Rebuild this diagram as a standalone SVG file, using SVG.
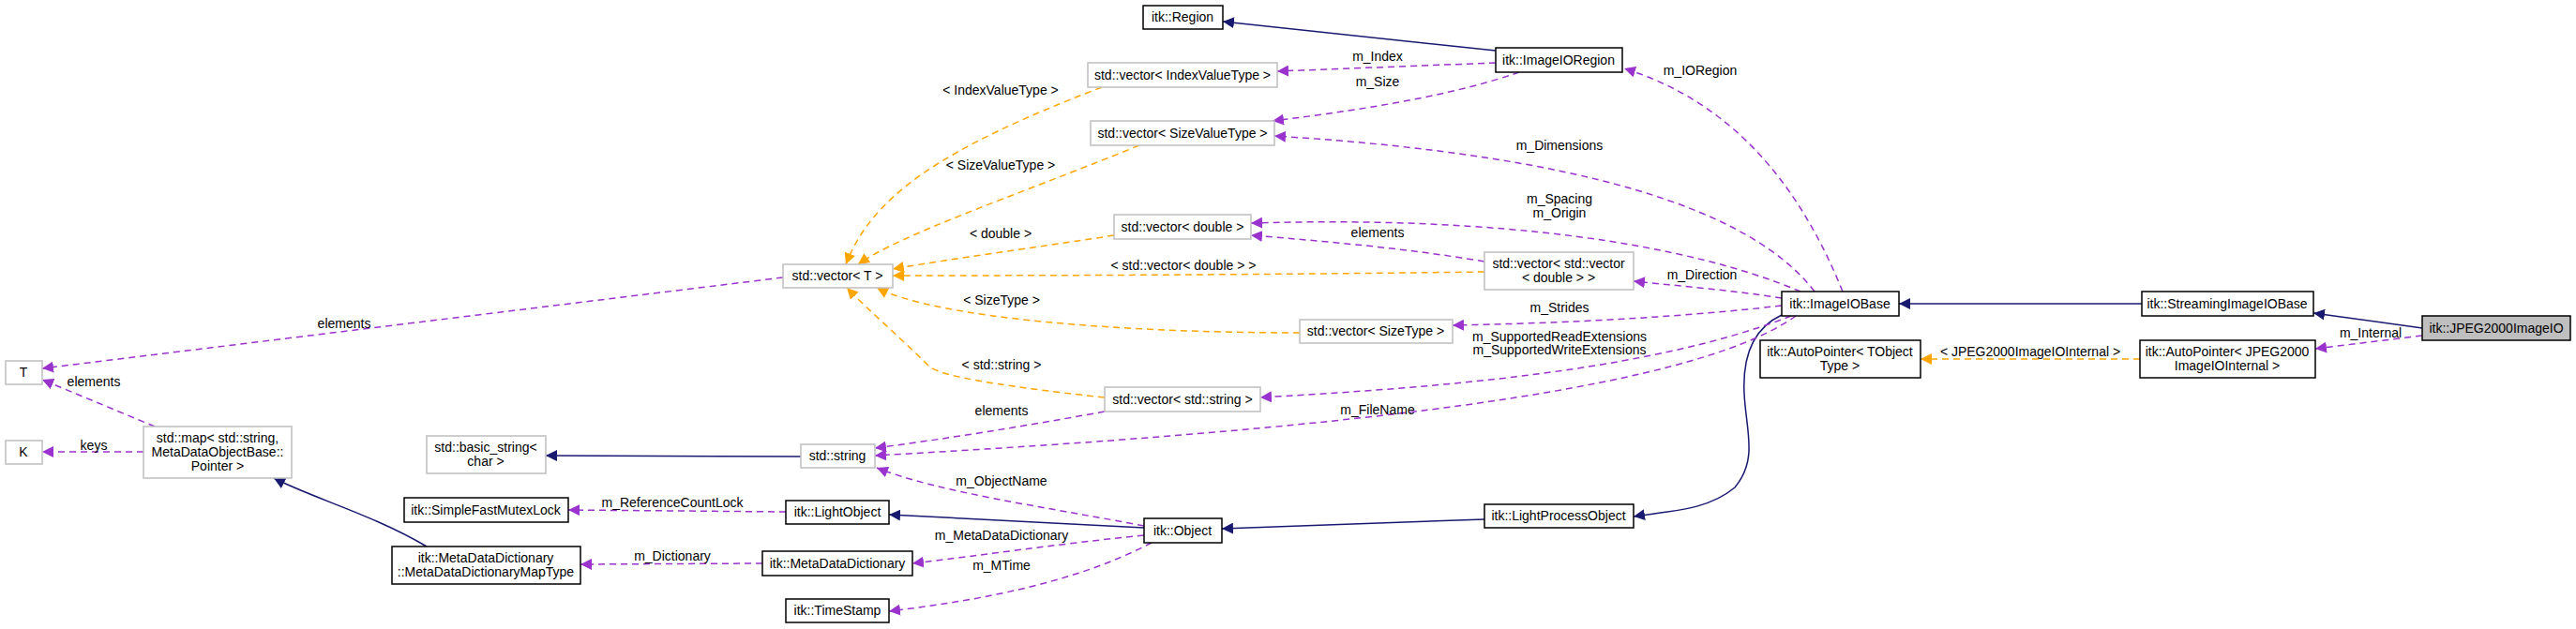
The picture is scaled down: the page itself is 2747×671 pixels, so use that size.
<svg xmlns="http://www.w3.org/2000/svg" width="2747" height="671" viewBox="0 0 2747 671">
<style>
text{font-family:"Liberation Sans",Arial,sans-serif;font-size:14px;fill:#000;text-anchor:middle}
.b rect{fill:#fff;stroke:#000;stroke-width:1.5}
.g rect{fill:#fff;stroke:#bfbfbf;stroke-width:1.5}
.p{fill:none;stroke:#9a32cd;stroke-width:1.5;stroke-dasharray:7,5}
.o{fill:none;stroke:#ffa500;stroke-width:1.5;stroke-dasharray:7,5}
.n{fill:none;stroke:#191970;stroke-width:1.5}
</style>
<defs>
<marker id="ap" viewBox="0 0 10 10" refX="10" refY="5" markerWidth="12" markerHeight="12" markerUnits="userSpaceOnUse" orient="auto"><path d="M0,0L10,5L0,10z" fill="#9a32cd"/></marker>
<marker id="ao" viewBox="0 0 10 10" refX="10" refY="5" markerWidth="12" markerHeight="12" markerUnits="userSpaceOnUse" orient="auto"><path d="M0,0L10,5L0,10z" fill="#ffa500"/></marker>
<marker id="an" viewBox="0 0 10 10" refX="10" refY="5" markerWidth="12" markerHeight="12" markerUnits="userSpaceOnUse" orient="auto"><path d="M0,0L10,5L0,10z" fill="#191970"/></marker>
</defs>
<rect width="2747" height="671" fill="#fff"/>
<g id="edges">
<path class="n" marker-end="url(#an)" d="M1595,54L1304,23"/>
<path class="n" marker-end="url(#an)" d="M854,487L582,486"/>
<path class="n" marker-end="url(#an)" d="M455,583C400,550 330,530 292,510"/>
<path class="n" marker-end="url(#an)" d="M1220,563L948,549"/>
<path class="n" marker-end="url(#an)" d="M1583,554L1303,564"/>
<path class="n" marker-end="url(#an)" d="M1900,336C1870,350 1858,380 1860,420C1862,460 1875,490 1850,520C1820,545 1780,545 1742,551"/>
<path class="n" marker-end="url(#an)" d="M2284,324L2025,324"/>
<path class="n" marker-end="url(#an)" d="M2583,350L2467,334"/>
<path class="p" marker-end="url(#ap)" d="M1595,67L1362,76"/>
<path class="p" marker-end="url(#ap)" d="M1620,77C1540,105 1430,120 1357,129"/>
<path class="p" marker-end="url(#ap)" d="M1965,311C1920,200 1850,110 1732,73"/>
<path class="p" marker-end="url(#ap)" d="M1935,311C1850,200 1600,160 1359,145"/>
<path class="p" marker-end="url(#ap)" d="M1920,311C1800,260 1600,230 1334,238"/>
<path class="p" marker-end="url(#ap)" d="M1583,279C1500,265 1420,258 1334,251"/>
<path class="p" marker-end="url(#ap)" d="M1900,318C1850,310 1790,305 1742,300"/>
<path class="p" marker-end="url(#ap)" d="M1900,326C1780,340 1650,345 1549,347"/>
<path class="p" marker-end="url(#ap)" d="M1910,337C1750,400 1500,415 1344,424"/>
<path class="p" marker-end="url(#ap)" d="M1915,337C1800,420 1400,460 933,486"/>
<path class="p" marker-end="url(#ap)" d="M1178,439C1090,455 1010,468 933,478"/>
<path class="p" marker-end="url(#ap)" d="M1220,561C1110,540 1000,525 935,499"/>
<path class="p" marker-end="url(#ap)" d="M1220,571C1130,580 1050,592 973,601"/>
<path class="p" marker-end="url(#ap)" d="M1228,579C1150,620 1050,640 948,652"/>
<path class="p" marker-end="url(#ap)" d="M838,546L606,544"/>
<path class="p" marker-end="url(#ap)" d="M813,601L619,602"/>
<path class="p" marker-end="url(#ap)" d="M835,296L45,393"/>
<path class="p" marker-end="url(#ap)" d="M165,455L45,405"/>
<path class="p" marker-end="url(#ap)" d="M153,482L45,482"/>
<path class="p" marker-end="url(#ap)" d="M2583,358L2469,372"/>
<path class="o" marker-end="url(#ao)" d="M1175,93C1000,160 930,210 902,282"/>
<path class="o" marker-end="url(#ao)" d="M1215,155C1080,210 960,250 915,282"/>
<path class="o" marker-end="url(#ao)" d="M1188,251C1100,265 1020,275 952,287"/>
<path class="o" marker-end="url(#ao)" d="M1583,290C1350,293 1150,294 952,294"/>
<path class="o" marker-end="url(#ao)" d="M1386,355C1200,355 1000,340 935,307"/>
<path class="o" marker-end="url(#ao)" d="M1178,424C1050,410 1000,400 990,390C960,360 925,330 903,307"/>
<path class="o" marker-end="url(#ao)" d="M2282,383L2048,383"/>
</g>
<g id="labels">
<text x="1469" y="65">m_Index</text>
<text x="1469" y="92">m_Size</text>
<text x="1813" y="80">m_IORegion</text>
<text x="1663" y="160">m_Dimensions</text>
<text x="1663" y="217">m_Spacing</text>
<text x="1663" y="232">m_Origin</text>
<text x="1469" y="253">elements</text>
<text x="1815" y="298">m_Direction</text>
<text x="1663" y="333">m_Strides</text>
<text x="1663" y="364">m_SupportedReadExtensions</text>
<text x="1663" y="378">m_SupportedWriteExtensions</text>
<text x="1469" y="442">m_FileName</text>
<text x="1068" y="443">elements</text>
<text x="1068" y="518">m_ObjectName</text>
<text x="1068" y="576">m_MetaDataDictionary</text>
<text x="1068" y="608">m_MTime</text>
<text x="717" y="541">m_ReferenceCountLock</text>
<text x="717" y="598">m_Dictionary</text>
<text x="367" y="350">elements</text>
<text x="100" y="412">elements</text>
<text x="100" y="480">keys</text>
<text x="2528" y="360">m_Internal</text>
<text x="1067" y="101">&lt; IndexValueType &gt;</text>
<text x="1067" y="181">&lt; SizeValueType &gt;</text>
<text x="1067" y="254">&lt; double &gt;</text>
<text x="1262" y="288">&lt; std::vector&lt; double &gt; &gt;</text>
<text x="1068" y="325">&lt; SizeType &gt;</text>
<text x="1068" y="394">&lt; std::string &gt;</text>
<text x="2165" y="380">&lt; JPEG2000ImageIOInternal &gt;</text>
</g>
<g id="n_region" class="b"><rect x="1219" y="6" width="85" height="25"/><text x="1261" y="23">itk::Region</text></g>
<g id="n_ioregion" class="b"><rect x="1595" y="51" width="135" height="26"/><text x="1662" y="69">itk::ImageIORegion</text></g>
<g id="n_vidx" class="g"><rect x="1160" y="67" width="202" height="26"/><text x="1261" y="85">std::vector&lt; IndexValueType &gt;</text></g>
<g id="n_vsize" class="g"><rect x="1163" y="129" width="196" height="26"/><text x="1261" y="147">std::vector&lt; SizeValueType &gt;</text></g>
<g id="n_vdouble" class="g"><rect x="1188" y="229" width="146" height="26"/><text x="1261" y="247">std::vector&lt; double &gt;</text></g>
<g id="n_vvdouble" class="g"><rect x="1583" y="269" width="159" height="40"/><text x="1662" y="286">std::vector&lt; std::vector</text><text x="1662" y="301">&lt; double &gt; &gt;</text></g>
<g id="n_vT" class="g"><rect x="835" y="282" width="117" height="25"/><text x="893" y="299">std::vector&lt; T &gt;</text></g>
<g id="n_vsizetype" class="g"><rect x="1386" y="341" width="163" height="25"/><text x="1467" y="358">std::vector&lt; SizeType &gt;</text></g>
<g id="n_vstring" class="g"><rect x="1178" y="413" width="166" height="26"/><text x="1261" y="431">std::vector&lt; std::string &gt;</text></g>
<g id="n_string" class="g"><rect x="854" y="474" width="79" height="25"/><text x="893" y="491">std::string</text></g>
<g id="n_basic" class="g"><rect x="455" y="465" width="127" height="40"/><text x="518" y="482">std::basic_string&lt;</text><text x="518" y="497">char &gt;</text></g>
<g id="n_T" class="g"><rect x="6" y="385" width="39" height="25"/><text x="25" y="402">T</text></g>
<g id="n_K" class="g"><rect x="6" y="470" width="39" height="25"/><text x="25" y="487">K</text></g>
<g id="n_map" class="g"><rect x="153" y="455" width="158" height="55"/><text x="232" y="472">std::map&lt; std::string,</text><text x="232" y="487">MetaDataObjectBase::</text><text x="232" y="502">Pointer &gt;</text></g>
<g id="n_mutex" class="b"><rect x="431" y="531" width="175" height="26"/><text x="518" y="549">itk::SimpleFastMutexLock</text></g>
<g id="n_lightobj" class="b"><rect x="838" y="534" width="110" height="25"/><text x="893" y="551">itk::LightObject</text></g>
<g id="n_maptype" class="b"><rect x="418" y="583" width="201" height="40"/><text x="518" y="600">itk::MetaDataDictionary</text><text x="518" y="615">::MetaDataDictionaryMapType</text></g>
<g id="n_mdd" class="b"><rect x="813" y="588" width="160" height="26"/><text x="893" y="606">itk::MetaDataDictionary</text></g>
<g id="n_ts" class="b"><rect x="838" y="639" width="110" height="25"/><text x="893" y="656">itk::TimeStamp</text></g>
<g id="n_object" class="b"><rect x="1220" y="553" width="83" height="26"/><text x="1261" y="571">itk::Object</text></g>
<g id="n_lpo" class="b"><rect x="1583" y="538" width="159" height="25"/><text x="1662" y="555">itk::LightProcessObject</text></g>
<g id="n_iobase" class="b"><rect x="1900" y="311" width="125" height="26"/><text x="1962" y="329">itk::ImageIOBase</text></g>
<g id="n_stream" class="b"><rect x="2284" y="311" width="183" height="26"/><text x="2375" y="329">itk::StreamingImageIOBase</text></g>
<g id="n_jpeg" class="b"><rect x="2583" y="337" width="158" height="26" style="fill:#bfbfbf"/><text x="2662" y="355">itk::JPEG2000ImageIO</text></g>
<g id="n_apT" class="b"><rect x="1877" y="363" width="171" height="40"/><text x="1962" y="380">itk::AutoPointer&lt; TObject</text><text x="1962" y="395">Type &gt;</text></g>
<g id="n_apJ" class="b"><rect x="2282" y="363" width="187" height="40"/><text x="2375" y="380">itk::AutoPointer&lt; JPEG2000</text><text x="2375" y="395">ImageIOInternal &gt;</text></g>
</svg>
